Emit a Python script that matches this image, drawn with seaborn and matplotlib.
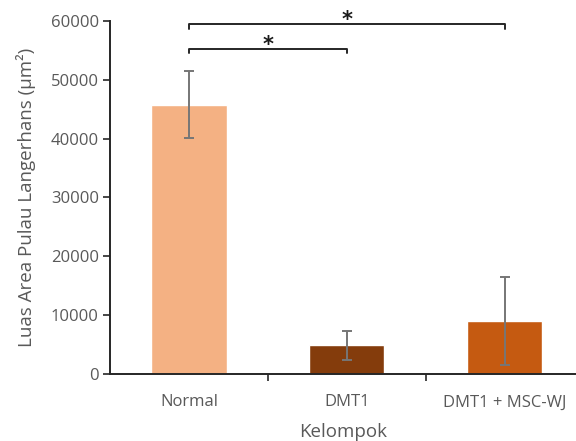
import matplotlib
matplotlib.use("Agg")
import matplotlib.pyplot as plt
import seaborn as sns

# values
groups = ["Normal", "DMT1", "DMT1 + MSC-WJ"]
means = [45800, 4800, 8950]
errors = [5650, 2480, 7570]
colors = ["#F4B183", "#843C0C", "#C55A11"]

# significance brackets: (start group, end group, line height)
brackets = [(0, 2, 59450), (0, 1, 55200)]

sns.set_style("white")
plt.rcParams["font.family"] = ["Open Sans", "DejaVu Sans"]

text_grey = "#595959"

fig = plt.figure(figsize=(5.76, 4.41), dpi=100)
ax = fig.add_axes([0.191, 0.153, 0.809, 0.799])

sns.barplot(x=groups, y=means, hue=groups, palette=colors, legend=False,
            width=0.476, saturation=1, ax=ax)
ax.errorbar(range(len(groups)), means, yerr=errors, fmt="none",
            ecolor="#767676", elinewidth=1.4, capsize=3.8, capthick=1.4)

ax.set_ylim(0, 60000)
ax.set_xlim(-0.5, 2.452)
ax.set_yticks(range(0, 60001, 10000))
ax.tick_params(axis="y", labelsize=12, labelcolor=text_grey, length=5,
               width=1.2, color="#262626", left=True, pad=3)
ax.tick_params(axis="x", which="major", length=0, labelsize=12,
               labelcolor=text_grey, pad=15)
ax.set_xticks([0.5, 1.5], minor=True)
ax.tick_params(axis="x", which="minor", bottom=True, length=5, width=1.2,
               color="#262626")

for side in ["top", "right"]:
    ax.spines[side].set_visible(False)
for side in ["left", "bottom"]:
    ax.spines[side].set_color("#262626")
    ax.spines[side].set_linewidth(1.4)

ax.set_xlabel("Kelompok", fontsize=13.5, color=text_grey, labelpad=9)
ax.set_ylabel("Luas Area Pulau Langerhans (µm²)", fontsize=13.5,
              color=text_grey, labelpad=11)

drop = 700
for a, b, h in brackets:
    ax.plot([a, a, b, b], [h - drop, h, h, h - drop], color="#262626",
            lw=1.4, clip_on=False)
    ax.text((a + b) / 2, h - 900, "*", ha="center", va="bottom",
            fontsize=15, fontweight="bold", color="#1a1a1a",
            family="DejaVu Sans", clip_on=False)

fig.savefig("out.png", dpi=100)
